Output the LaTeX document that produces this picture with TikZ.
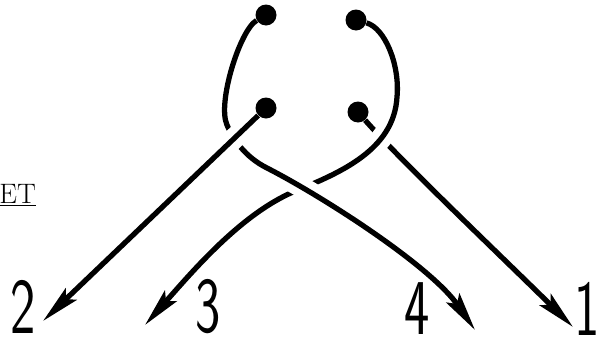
\documentclass[tikz,border=0pt]{standalone}
\usepackage{tikz}
\usetikzlibrary{arrows.meta}

\begin{document}
\begin{tikzpicture}[
        x=0.02cm, y=-0.02cm,
        dot/.style = {circle, fill=black, minimum size=0.42cm, inner sep=0pt},
        lbl/.style = {font=\fontsize{45}{45}\selectfont\sffamily, inner sep=0pt},
        strand/.style = {line width=3pt, -{Stealth[length=22pt, width=9pt, inset=4pt]}},
        over/.style = {preaction={draw=white, line width=12pt, -, shorten >=14pt}}
    ]
        \useasboundingbox (0,0) rectangle (598,342);

        % Dots
        \node (tl) [dot] at (266,15) {};
        \node (tr) [dot] at (356,20) {};
        \node (bl) [dot] at (266,108) {};
        \node (br) [dot] at (358,112) {};

        % Arrow ends
        \coordinate (tip2) at (43,321);
        \coordinate (tip3) at (145,325);
        \coordinate (tip4) at (475,330);
        \coordinate (tip1) at (573,327);

        % Strands, lowest first
        \draw [strand] (br) .. controls (400,160) and (500,255) .. (tip1);
        \draw [strand, over] (tr) .. controls (385,28) and (400,65) .. (397,97)
              .. controls (394,150) and (340,173) .. (293,192)
              .. controls (240,215) and (192,272) .. (tip3);
        \draw [strand, over] (tl) .. controls (240,30) and (217,103) .. (227,125)
              .. controls (233,139) and (245,157) .. (267,168)
              .. controls (320,195) and (430,265) .. (tip4);
        \draw [strand, over] (bl) -- (tip2);

        % Labels
        \node (n2) [lbl] at (23.5,307) {\scalebox{0.68}[1]{2}};
        \node (n3) [lbl] at (208.5,307) {\scalebox{0.68}[1]{3}};
        \node (n4) [lbl] at (417,309) {\scalebox{0.68}[1]{4}};
        \node (n1) [lbl] at (587,309) {\scalebox{0.68}[1]{1}};
        \node (et) [anchor=base west, inner sep=0pt, font=\fontsize{16}{16}\selectfont\rmfamily] at (-1,203) {\underline{ET}};

    \end{tikzpicture}
\end{document}
